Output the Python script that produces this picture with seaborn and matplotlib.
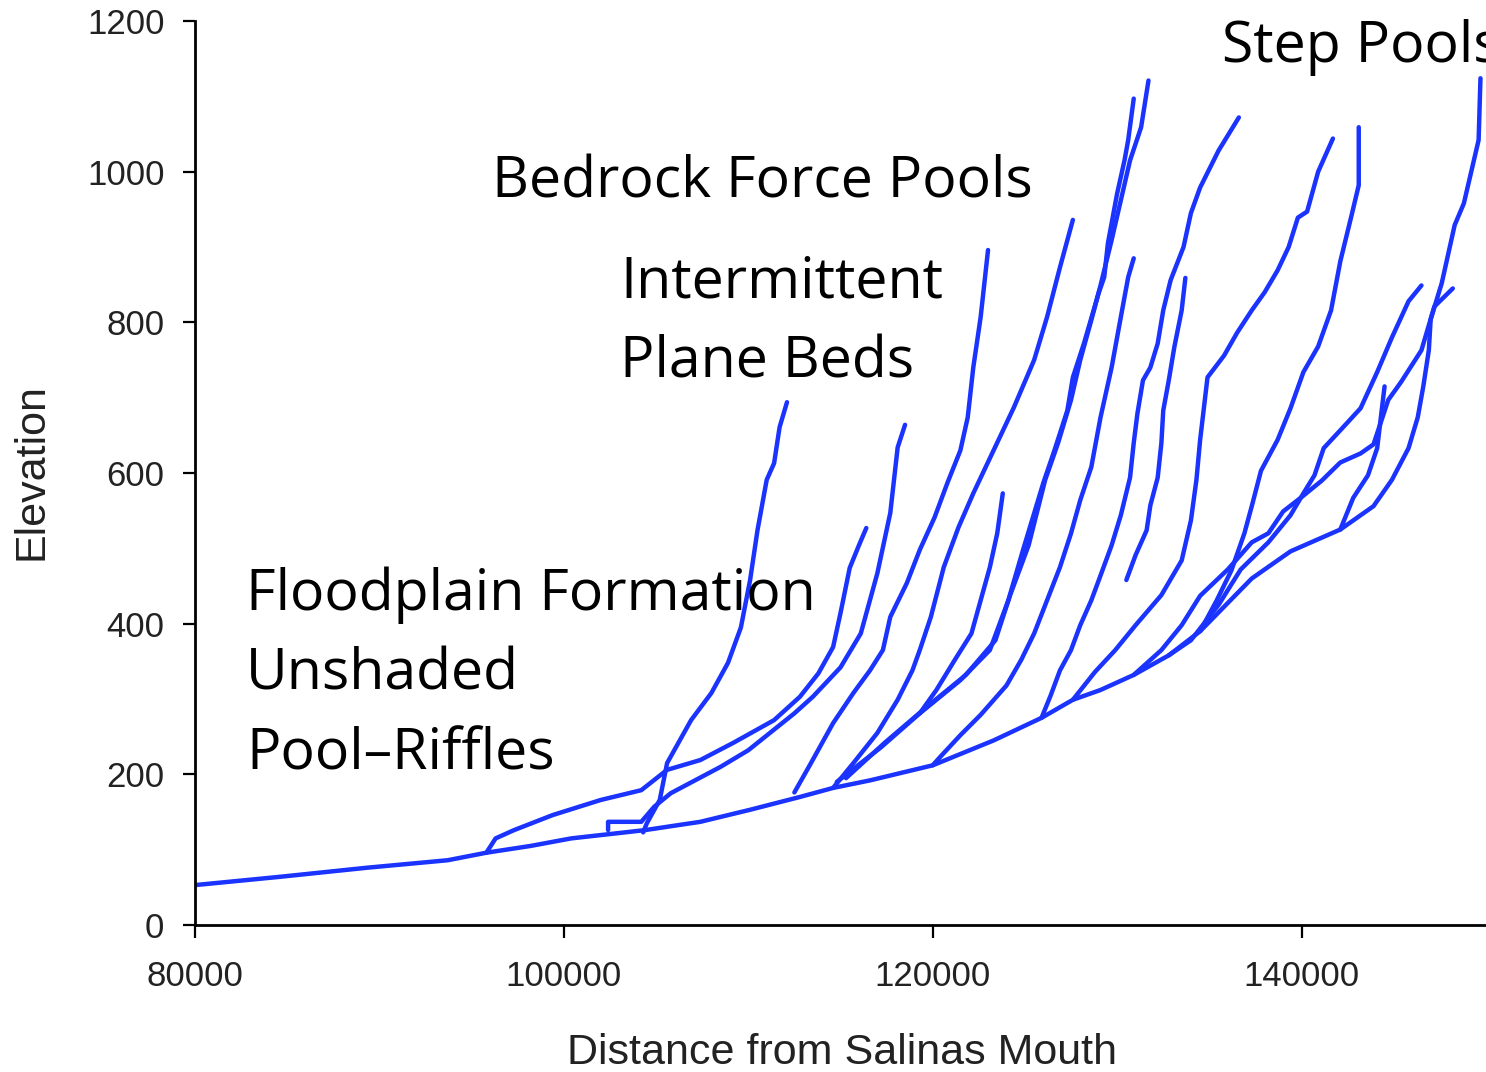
import numpy as np
import pandas as pd
import matplotlib
matplotlib.use("Agg")
import matplotlib.pyplot as plt
import seaborn as sns

# longitudinal profiles: distance from mouth (m) vs elevation (m)
main_x = [80000, 84600, 89300, 93700, 95800, 98200, 100400, 104400, 107400, 110100, 112800,
          114600, 116600, 120000, 123300, 125900, 127600, 129100, 130900, 132800, 134500,
          137300, 139400, 142100, 143900, 144900, 145800, 146300, 146600, 146900, 147000,
          147600, 148300, 148800, 149600, 149700]
main_y = [53, 64, 76, 86, 96, 105, 115, 126, 137, 153, 170, 182, 192, 212, 245, 275, 299, 312,
          332, 358, 390, 460, 496, 525, 556, 591, 633, 674, 715, 763, 804, 852, 929, 958, 1042, 1124]

t1_x = [95800, 96300, 97300, 99400, 102000, 104200, 105600, 107400, 109200, 111400, 112800,
        113800, 114600, 115000, 115500, 116000, 116400]
t1_y = [96, 115, 126, 146, 166, 179, 206, 219, 242, 272, 303, 334, 369, 414, 474, 504, 527]

t2_x = [104300, 104500, 105200, 105600, 106900, 108000, 108900, 109600, 110100, 110500,
        111000, 111400, 111700, 112100]
t2_y = [123, 135, 166, 215, 272, 308, 348, 395, 458, 524, 591, 613, 661, 694]

t3_x = [102400, 102400, 104200, 104900, 105800, 108500, 110000, 112500, 113500, 115000,
        116100, 117000, 117700, 118100, 118500]
t3_y = [126, 137, 137, 157, 175, 210, 232, 281, 303, 342, 387, 467, 547, 634, 664]

t4_x = [112500, 113400, 114600, 115700, 116600, 117300, 117700, 118600, 119300, 120100,
        120800, 121500, 121900, 122200, 122600, 123000]
t4_y = [176, 215, 268, 308, 338, 365, 409, 454, 498, 541, 587, 630, 674, 740, 807, 896]

t5_x = [114600, 115700, 117000, 118100, 118900, 119300, 119900, 120600, 121400, 122200,
        123300, 124400, 125500, 126200, 126900, 127600]
t5_y = [182, 215, 255, 299, 338, 365, 409, 475, 528, 573, 630, 687, 750, 807, 873, 936]

t6_x = [114800, 117200, 119300, 121500, 123100, 124100, 124900, 126000, 126600, 127300,
        127600, 128200, 129000, 129300, 129500, 130000, 130400, 130600, 130900]
t6_y = [190, 236, 281, 325, 365, 431, 498, 587, 630, 683, 727, 772, 839, 860, 905, 971,
        1015, 1042, 1097]

t6b_x = [115300, 117400, 119600, 121800, 123400, 124200, 125200, 126100, 126800, 127500,
         128000, 128600, 129100, 129700, 130200, 130700, 131300, 131700]
t6b_y = [195, 242, 288, 332, 378, 438, 504, 591, 640, 697, 750, 803, 849, 909, 962, 1015,
         1059, 1121]

t7_x = [119300, 120200, 121200, 122100, 122600, 123100, 123500, 123800]
t7_y = [281, 312, 352, 387, 431, 475, 520, 573]

t8_x = [120000, 120400, 121500, 122600, 124000, 124800, 125500, 126200, 126900, 127500,
        128000, 128600, 129100, 129700, 130200, 130600, 130900]
t8_y = [212, 223, 252, 279, 318, 352, 387, 431, 475, 520, 564, 608, 674, 740, 807, 860, 885]

t9_x = [130500, 131000, 131600, 131800, 132200, 132400, 132500, 132800, 133100, 133500, 133700]
t9_y = [458, 491, 524, 557, 594, 640, 683, 723, 767, 816, 859]

t10_x = [125900, 126400, 126900, 127500, 128000, 128600, 129100, 129700, 130200, 130700,
         130900, 131100, 131400, 131800, 132200, 132500, 132900, 133600, 134000, 134500,
         135500, 136600]
t10_y = [275, 305, 338, 365, 398, 431, 464, 504, 544, 594, 640, 679, 723, 740, 772, 816,
         856, 900, 945, 979, 1028, 1072]

r11_x = [127600, 128800, 129900, 131000, 132400, 133500, 134000, 134300, 134500, 134900,
         135800, 136500, 137300, 138000, 138700, 139300, 139800, 140300, 140900, 141700]
r11_y = [299, 336, 365, 398, 438, 484, 537, 591, 644, 727, 756, 786, 816, 840, 869, 900,
         939, 947, 1000, 1044]

r12_x = [134500, 135400, 136200, 136900, 137300, 137800, 138700, 139400, 140100, 140900,
         141600, 142100, 142700, 143100, 143100]
r12_y = [390, 431, 471, 520, 556, 603, 644, 686, 734, 768, 816, 881, 941, 982, 1059]

r13_x = [132800, 134000, 135500, 136700, 138200, 139400, 140100, 140700, 141200, 142300,
         143200, 144100, 144900, 145800, 146500]
r13_y = [358, 378, 425, 472, 508, 544, 573, 597, 633, 662, 686, 734, 780, 828, 849]

r14_x = [130900, 132400, 133500, 134500, 136000, 137300, 138200, 139000, 140000, 141100,
         142100, 143200, 143900, 144700, 145400, 146500, 147200, 148200]
r14_y = [332, 365, 398, 437, 472, 508, 520, 549, 568, 590, 614, 626, 638, 697, 721, 763,
         821, 845]

r15_x = [142100, 142800, 143600, 144100, 144300, 144500]
r15_y = [525, 567, 597, 633, 674, 715]

reaches = {
    "main": (main_x, main_y), "t1": (t1_x, t1_y), "t2": (t2_x, t2_y), "t3": (t3_x, t3_y),
    "t4": (t4_x, t4_y), "t5": (t5_x, t5_y), "t6": (t6_x, t6_y), "t6b": (t6b_x, t6b_y),
    "t7": (t7_x, t7_y), "t8": (t8_x, t8_y), "t9": (t9_x, t9_y), "t10": (t10_x, t10_y),
    "r11": (r11_x, r11_y), "r12": (r12_x, r12_y), "r13": (r13_x, r13_y),
    "r14": (r14_x, r14_y), "r15": (r15_x, r15_y),
}

rows = []
for name, (xs, ys) in reaches.items():
    for x, y in zip(xs, ys):
        rows.append((name, x, y))
df = pd.DataFrame(rows, columns=["reach", "distance", "elevation"])

sns.set_style("ticks")
plt.rcParams["font.family"] = ["Liberation Sans", "DejaVu Sans"]

fig = plt.figure(figsize=(14.86, 10.72), dpi=100)
ax = fig.add_axes([0.1312, 0.1371, 0.8688, 0.8433])

sns.lineplot(data=df, x="distance", y="elevation", hue="reach",
             palette=["#1a33ff"] * len(reaches), estimator=None, sort=False,
             legend=False, linewidth=3.2, ax=ax)

ax.set_xlim(80000, 150000)
ax.set_ylim(0, 1200)
ax.set_xticks([80000, 100000, 120000, 140000])
ax.set_yticks(range(0, 1201, 200))
ax.set_xlabel("")
ax.set_ylabel("")
sns.despine(ax=ax)
for s in ["left", "bottom"]:
    ax.spines[s].set_linewidth(2)
    ax.spines[s].set_color("black")
ax.tick_params(axis="both", length=9, width=1.6, colors="black", labelcolor="#222222",
               labelsize=25)
ax.tick_params(axis="y", pad=13)
ax.tick_params(axis="x", pad=16)

fig.text(32 / 1486, 1 - 472 / 1072, "Elevation", rotation=90, ha="center", va="center",
         fontsize=31, color="#222222")
fig.text(842 / 1486, 1 - 1053 / 1072, "Distance from Salinas Mouth", ha="center",
         va="center", fontsize=31, color="#222222")

notes = [("Step Pools", 1222, 62), ("Bedrock Force Pools", 492, 198),
         ("Intermittent", 620, 298), ("Plane Beds", 620, 378),
         ("Floodplain Formation", 246, 610), ("Unshaded", 246, 690),
         ("Pool\u2013Riffles", 246, 770)]
for txt, px, py in notes:
    fig.text(px / 1486, 1 - py / 1072, txt, ha="left", va="baseline", fontsize=41.2,
             family=["Open Sans", "DejaVu Sans"], color="black")

fig.savefig("out.png", dpi=100)
